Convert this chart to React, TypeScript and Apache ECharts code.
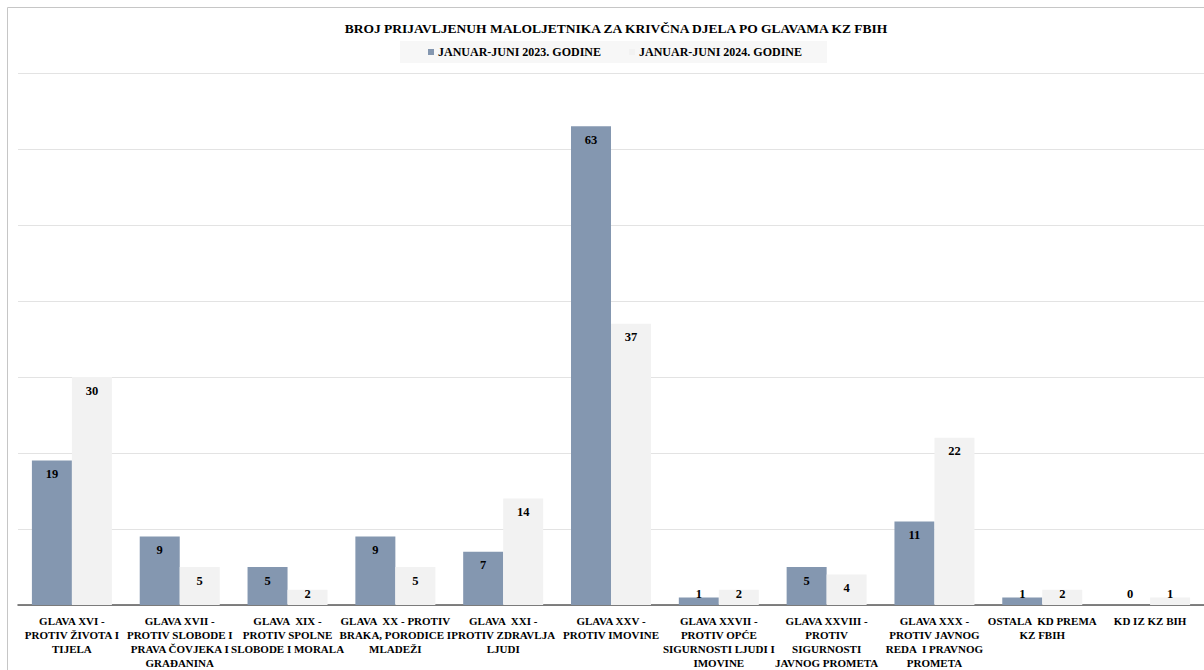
import React, { useEffect, useRef } from "react";
import * as echarts from "echarts";

const categories: string[] = [
  "GLAVA XVI -\nPROTIV ŽIVOTA I\nTIJELA",
  "GLAVA XVII -\nPROTIV SLOBODE I\nPRAVA ČOVJEKA I\nGRAĐANINA",
  "GLAVA  XIX -\nPROTIV SPOLNE\nSLOBODE I MORALA",
  "GLAVA  XX - PROTIV\nBRAKA, PORODICE I\nMLADEŽI",
  "GLAVA  XXI -\nPROTIV ZDRAVLJA\nLJUDI",
  "GLAVA XXV -\nPROTIV IMOVINE",
  "GLAVA XXVII -\nPROTIV OPĆE\nSIGURNOSTI LJUDI I\nIMOVINE",
  "GLAVA XXVIII -\nPROTIV\nSIGURNOSTI\nJAVNOG PROMETA",
  "GLAVA XXX -\nPROTIV JAVNOG\nREDA  I PRAVNOG\nPROMETA",
  "OSTALA  KD PREMA\nKZ FBIH",
  "KD IZ KZ BIH",
];

const series2023: number[] = [19, 9, 5, 9, 7, 63, 1, 5, 11, 1, 0];
const series2024: number[] = [30, 5, 2, 5, 14, 37, 2, 4, 22, 2, 1];

const seriesNames = ["JANUAR-JUNI 2023. GODINE", "JANUAR-JUNI 2024. GODINE"];
const titleText = "BROJ PRIJAVLJENUH MALOLJETNIKA ZA KRIVČNA DJELA PO GLAVAMA KZ FBIH";

const FONT = "'Liberation Serif', 'DejaVu Serif', serif";

function toData(values: number[]) {
  return values.map((v) => ({
    value: v,
    label:
      v <= 2
        ? { position: "insideBottom", distance: 5 }
        : { position: "insideTop", distance: 7 },
  }));
}

export default function App() {
  const ref = useRef<HTMLDivElement>(null);
  useEffect(() => {
    if (!ref.current) return;
    const chart = echarts.init(ref.current, undefined, { renderer: "svg" });
    const labelStyle = {
      show: true,
      color: "#000",
      fontFamily: FONT,
      fontWeight: "bold",
      fontSize: 12.5,
    };
    chart.setOption({
      animation: false,
      backgroundColor: "#fff",
      title: {
        text: titleText,
        left: 611,
        top: 16,
        textAlign: "center",
        textStyle: {
          fontFamily: FONT,
          fontWeight: "bold",
          fontSize: 13.5,
          color: "#000",
        },
      },
      legend: {
        left: 400,
        top: 41,
        padding: [5, 25, 5, 28],
        backgroundColor: "#f7f7f7",
        itemWidth: 6,
        itemHeight: 6,
        itemGap: 28,
        icon: "rect",
        textStyle: {
          fontFamily: FONT,
          fontWeight: "bold",
          fontSize: 12,
          color: "#000",
          padding: [0, 0, 0, -1],
        },
        data: seriesNames,
      },
      graphic: [
        {
          type: "rect",
          shape: { x: 7.5, y: 7.5, width: 1400, height: 800 },
          style: { fill: "none", stroke: "#c6c6c6", lineWidth: 1 },
          silent: true,
        },
      ],
      grid: { left: 18, right: 0, top: 73, bottom: 65, containLabel: false },
      xAxis: {
        type: "category",
        data: categories,
        axisLine: { lineStyle: { color: "#595959", width: 1.5 } },
        axisTick: { show: false },
        axisLabel: {
          interval: 0,
          fontFamily: FONT,
          fontWeight: "bold",
          fontSize: 11,
          color: "#000",
          lineHeight: 14,
          margin: 9,
        },
      },
      yAxis: {
        type: "value",
        min: 0,
        max: 70,
        interval: 10,
        axisLabel: { show: false },
        axisLine: { show: false },
        axisTick: { show: false },
        splitLine: { lineStyle: { color: "#e3e3e3", width: 1 } },
      },
      series: [
        {
          name: seriesNames[0],
          type: "bar",
          barWidth: 40,
          barGap: "0%",
          itemStyle: { color: "#8497b0" },
          label: labelStyle,
          data: toData(series2023),
        },
        {
          name: seriesNames[1],
          type: "bar",
          barWidth: 40,
          barGap: "0%",
          itemStyle: { color: "#f2f2f2" },
          label: labelStyle,
          data: toData(series2024),
        },
      ],
    });
    return () => chart.dispose();
  }, []);
  return (
    <div
      ref={ref}
      style={{ position: "fixed", left: 0, top: 0, width: 1204, height: 670 }}
    />
  );
}
